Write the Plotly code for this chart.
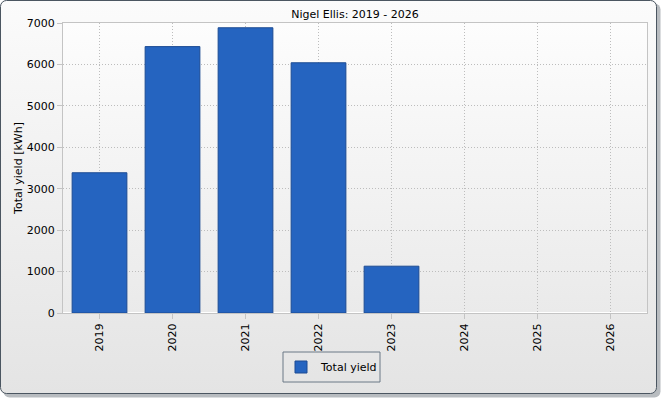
import base64
import plotly.graph_objects as go

years = ["2019", "2020", "2021", "2022", "2023", "2024", "2025", "2026"]
total_yield = [3385, 6430, 6885, 6040, 1130, 0, 0, 0]

W, H = 662, 400
ML, MR, MT, MB = 63, 15, 23, 87
pw, ph = W - ML - MR, H - MT - MB

# background: rounded grey frame + gradient plot area, as one svg stretched over the figure
svg = f'''<svg xmlns="http://www.w3.org/2000/svg" width="{W}" height="{H}" viewBox="0 0 {W} {H}" preserveAspectRatio="none">
<defs>
<linearGradient id="outer" x1="0" y1="0" x2="0" y2="1">
<stop offset="0" stop-color="#fbfbfb"/><stop offset="1" stop-color="#e4e4e4"/></linearGradient>
<linearGradient id="inner" x1="0" y1="0" x2="0" y2="1">
<stop offset="0" stop-color="#fdfdfd"/><stop offset="1" stop-color="#eaeaea"/></linearGradient>
</defs>
<rect x="3.5" y="3.5" width="657" height="394" rx="6" fill="#b8bcc0"/>
<rect x="0.5" y="0.5" width="656" height="393" rx="6" fill="url(#outer)" stroke="#4b5661" stroke-width="1"/>
<rect x="{ML}" y="{MT}" width="{pw}" height="{ph}" fill="url(#inner)"/>
</svg>'''
bg = "data:image/svg+xml;base64," + base64.b64encode(svg.encode()).decode()

fig = go.Figure()
fig.add_trace(go.Bar(
    name="Total yield", x=years, y=total_yield, width=0.75,
    marker=dict(color="#2564c0",
                line=dict(color="#1c4b93", width=[1 if v > 0 else 0 for v in total_yield])),
))

fig.update_layout(
    width=W, height=H,
    margin=dict(l=ML, r=MR, t=MT, b=MB),
    paper_bgcolor="white", plot_bgcolor="rgba(0,0,0,0)",
    font=dict(family="DejaVu Sans", size=10, color="black"),
    title=dict(text="Nigel Ellis: 2019 - 2026", x=0.5, xref="paper", xanchor="center",
               y=1 - 14 / H, yanchor="middle", font=dict(size=11)),
    showlegend=True,
    legend=dict(orientation="h", x=(281 - ML) / pw, xanchor="left",
                y=-(367 - (MT + ph)) / ph, yanchor="middle", borderwidth=0,
                bgcolor="rgba(0,0,0,0)", font=dict(size=11)),
    images=[dict(source=bg, xref="paper", yref="paper", x=-ML / pw, y=1 + MT / ph,
                 sizex=W / pw, sizey=H / ph, sizing="stretch", layer="below")],
    shapes=[dict(type="rect", xref="paper", yref="paper",
                 x0=(283 - ML) / pw, x1=(380 - ML) / pw,
                 y0=-(382 - MT - ph) / ph, y1=-(352 - MT - ph) / ph,
                 line=dict(color="#6a7886", width=1))],
)
grid = dict(showgrid=True, gridcolor="#bdbdbd", griddash="1px,2px", ticks="outside",
            ticklen=5, tickcolor="#c4c4c4", showline=True, linecolor="#c4c4c4",
            mirror=True, tickfont=dict(size=11))
fig.update_xaxes(type="category", tickangle=-90, **grid)
fig.update_yaxes(range=[0, 7000], dtick=1000, **grid,
                 title=dict(text="Total yield [kWh]", font=dict(size=11), standoff=1))

fig.write_html("out.html", config={"displayModeBar": False},
               post_script="document.body.style.margin='0';")
